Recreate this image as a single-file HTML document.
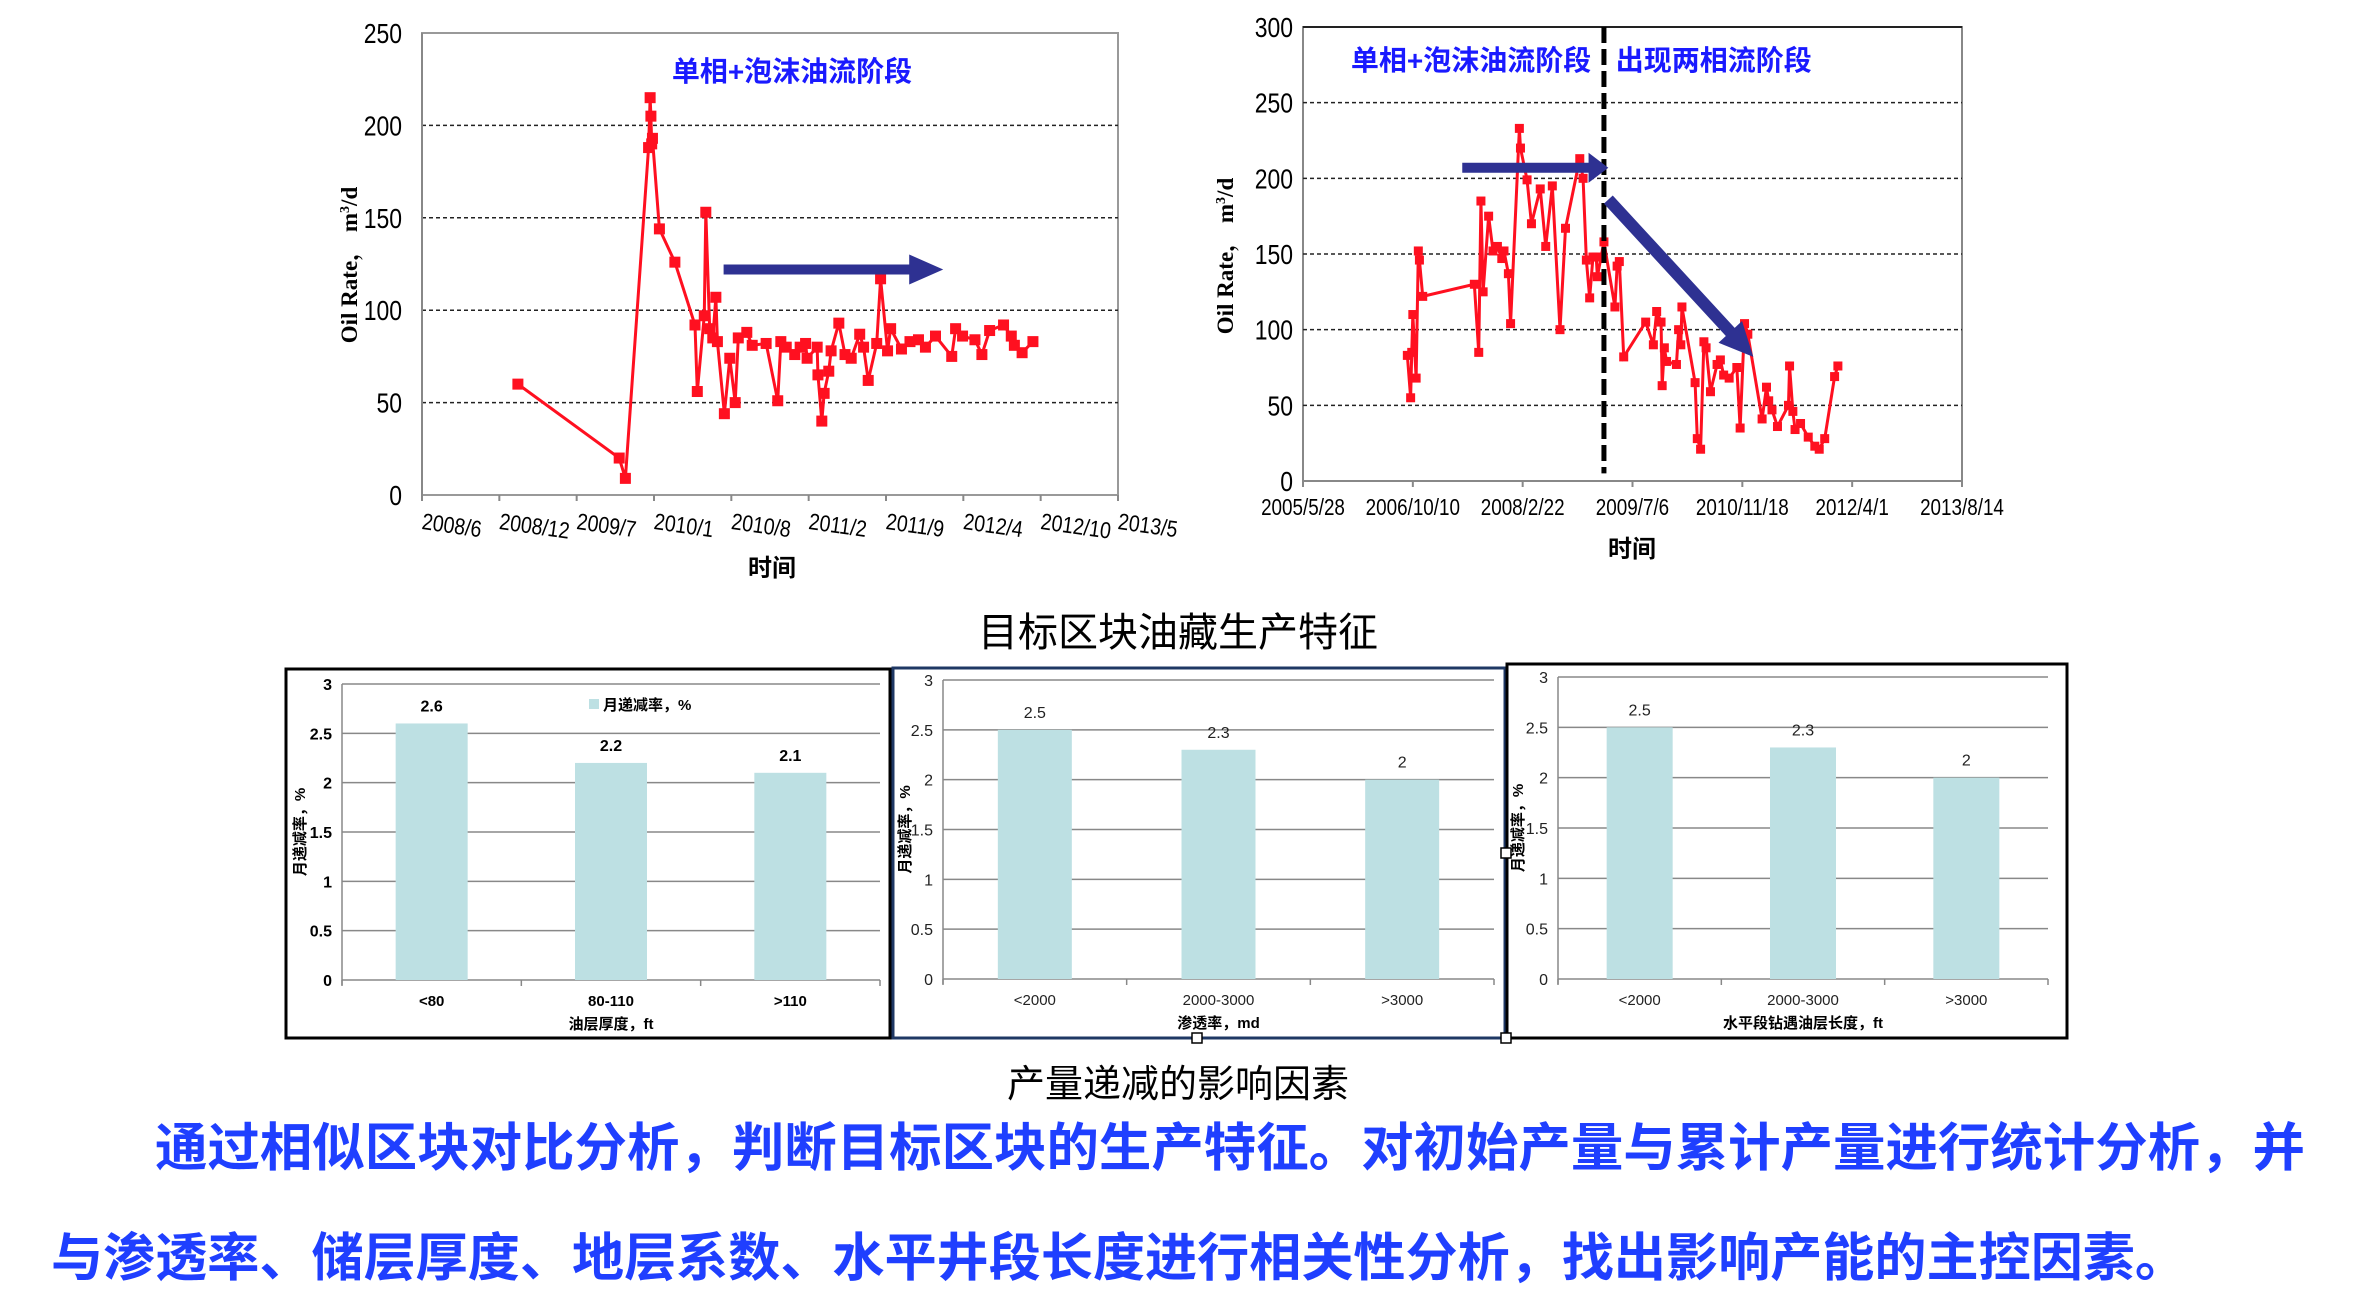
<!DOCTYPE html>
<html><head><meta charset="utf-8">
<style>
html,body{margin:0;padding:0;background:#fff;}
svg{display:block;}
text{font-family:"Liberation Sans","Noto Sans CJK SC",sans-serif;}
</style></head>
<body>
<svg id="s" width="2366" height="1314" viewBox="0 0 2366 1314" xmlns="http://www.w3.org/2000/svg">
<text x="1178" y="646" font-size="40" text-anchor="middle" fill="#000">目标区块油藏生产特征</text>
<text x="1178" y="1097" font-size="38" text-anchor="middle" fill="#000">产量递减的影响因素</text>
<text x="155" y="1166" font-size="52" font-weight="bold" fill="#1f3fff" textLength="2150" lengthAdjust="spacingAndGlyphs">通过相似区块对比分析，判断目标区块的生产特征。对初始产量与累计产量进行统计分析，并</text>
<text x="51" y="1276" font-size="52" font-weight="bold" fill="#1f3fff" textLength="2136" lengthAdjust="spacingAndGlyphs">与渗透率、储层厚度、地层系数、水平井段长度进行相关性分析，找出影响产能的主控因素。</text>
</svg>
<script>
// ---- Chart 1 data (time in x-tick index units from 2008/6) ----
const c1Ticks = ["2008/6","2008/12","2009/7","2010/1","2010/8","2011/2","2011/9","2012/4","2012/10","2013/5"];
const c1YTicks = [0,50,100,150,200,250];
const c1Time = [1.24,2.55,2.63,2.93,2.95,2.96,2.97,2.98,3.07,3.27,3.53,3.56,3.65,3.67,3.72,3.76,3.80,3.82,3.91,3.98,4.05,4.09,4.20,4.27,4.45,4.60,4.64,4.71,4.82,4.89,4.96,4.98,5.11,5.12,5.17,5.20,5.26,5.29,5.39,5.47,5.55,5.66,5.71,5.77,5.88,5.93,6.02,6.06,6.20,6.31,6.42,6.51,6.64,6.85,6.90,6.99,7.15,7.24,7.34,7.52,7.62,7.66,7.76,7.90];
const c1Rate = [60,20,9,188,215,205,190,193,144,126,92,56,97,153,90,85,107,83,44,74,50,85,88,81,82,51,83,80,76,80,82,74,80,65,40,55,67,78,93,76,74,87,80,62,82,117,78,90,79,83,84,80,86,75,90,86,84,76,89,92,86,81,77,83];
// ---- Chart 2 data (time in x-tick index units from 2005/5/28) ----
const c2Ticks = ["2005/5/28","2006/10/10","2008/2/22","2009/7/6","2010/11/18","2012/4/1","2013/8/14"];
const c2YTicks = [0,50,100,150,200,250,300];
const c2Time = [0.95,0.98,0.99,1.00,1.03,1.05,1.06,1.09,1.56,1.60,1.62,1.64,1.69,1.73,1.77,1.81,1.83,1.87,1.89,1.97,1.98,2.04,2.08,2.16,2.21,2.27,2.34,2.39,2.52,2.55,2.58,2.61,2.64,2.67,2.68,2.74,2.84,2.86,2.88,2.92,3.12,3.19,3.22,3.26,3.27,3.29,3.31,3.40,3.42,3.44,3.45,3.57,3.59,3.62,3.65,3.67,3.71,3.77,3.80,3.83,3.88,3.95,3.98,4.02,4.05,4.18,4.22,4.24,4.27,4.32,4.42,4.43,4.46,4.48,4.53,4.60,4.66,4.70,4.75,4.84,4.87];
const c2Rate = [83,55,85,110,68,152,146,122,130,85,185,125,175,152,155,147,152,137,104,233,220,199,170,193,155,195,100,167,213,200,146,121,148,148,135,158,115,142,145,82,105,90,112,105,63,88,79,77,100,90,115,65,28,21,92,88,59,77,80,70,68,75,35,104,97,41,62,53,47,36,50,76,46,34,38,29,23,21,28,69,76];
// ---- Bar charts ----
const barCatsA = ["<80","80-110",">110"];
const barValsA = [2.6,2.2,2.1];
const barCatsB = ["<2000","2000-3000",">3000"];
const barValsB = [2.5,2.3,2];
const barCatsC = ["<2000","2000-3000",">3000"];
const barValsC = [2.5,2.3,2];
const barYTicks = [0,0.5,1,1.5,2,2.5,3];

const NS="http://www.w3.org/2000/svg";
const svg=document.getElementById('s');
function mk(tag,attrs,parent){const e=document.createElementNS(NS,tag);for(const k in attrs)e.setAttribute(k,attrs[k]);(parent||svg).appendChild(e);return e;}
function txt(str,attrs,parent){const e=mk('text',attrs,parent);e.textContent=str;return e;}

// ================= Chart 1 =================
const g1=mk('g',{});


const L1=422,R1=1118,T1=33,B1=495;
const x1=t=>L1+t*(R1-L1)/9;
const y1=v=>B1-v*(B1-T1)/250;
const pb1=mk('rect',{x:L1,y:T1,width:R1-L1,height:B1-T1,fill:'none',stroke:'#999','stroke-width':2},g1);


c1YTicks.forEach(v=>{
  if(v>0&&v<250){const gl=mk('line',{x1:L1,x2:R1,y1:y1(v),y2:y1(v),stroke:'#222','stroke-width':1.5,'stroke-dasharray':'4,3'},g1);
  
  }
  const t=txt(String(v),{x:L1-20,y:y1(v)+10,'font-size':28,'text-anchor':'end',fill:'#000',transform:`translate(${L1-20},0) scale(0.82,1) translate(${-(L1-20)},0)`},g1);
  
  
});
mk('line',{x1:L1,x2:L1,y1:T1,y2:B1,stroke:'#888','stroke-width':2},g1);
c1Ticks.forEach((s,i)=>{
  const x=x1(i);
  mk('line',{x1:x,x2:x,y1:B1,y2:B1+6,stroke:'#888','stroke-width':2},g1);
  const t=txt(s,{x:x,y:B1+34,'font-size':23,'text-anchor':'start',fill:'#000',transform:`rotate(8 ${x} ${B1+28}) translate(${x},0) scale(0.85,1) translate(${-x},0)`},g1);
  
  
});
const xt1=txt('时间',{x:772,y:576,'font-size':24,'font-weight':'bold','text-anchor':'middle',fill:'#000'},g1);


const yt1=mk('text',{x:0,y:0,'font-size':23,'font-weight':'bold','text-anchor':'middle',fill:'#000',style:'font-family:"Liberation Serif","Noto Serif CJK SC",serif',transform:'translate(357,265) rotate(-90)'},g1);
yt1.innerHTML='Oil Rate，  m<tspan dy="-8" font-size="14">3</tspan><tspan dy="8">/d</tspan>';


const ti1=txt('单相+泡沫油流阶段',{x:792,y:81,'font-size':28,'font-weight':'bold','text-anchor':'middle',fill:'#1a1aff'},g1);


const ln1=mk('polyline',{points:c1Time.map((t,i)=>x1(t)+','+y1(c1Rate[i])).join(' '),fill:'none',stroke:'#ff1020','stroke-width':3},g1);


c1Time.forEach((t,i)=>{
  const m=mk('rect',{x:x1(t)-5.5,y:y1(c1Rate[i])-5.5,width:11,height:11,fill:'#ff1020'},g1);
  
  
});
{
  const ay=y1(122),xs=x1(3.9),xh=x1(6.3),xe=x1(6.74);
  const a=mk('polygon',{points:`${xs},${ay-5} ${xh},${ay-5} ${xh},${ay-15} ${xe},${ay} ${xh},${ay+15} ${xh},${ay+5} ${xs},${ay+5}`,fill:'#2e3192'},g1);
  
  
}

// ================= Chart 2 =================
const g2=mk('g',{});


const L2=1303,R2=1962,T2=27,B2=481;
const x2=t=>L2+t*(R2-L2)/6;
const y2=v=>B2-v*(B2-T2)/300;
const pb2=mk('rect',{x:L2,y:T2,width:R2-L2,height:B2-T2,fill:'none',stroke:'#888','stroke-width':2},g2);


mk('line',{x1:L2,x2:R2,y1:T2,y2:T2,stroke:'#222','stroke-width':2},g2);
c2YTicks.forEach(v=>{
  if(v>0&&v<300){const gl=mk('line',{x1:L2,x2:R2,y1:y2(v),y2:y2(v),stroke:'#222','stroke-width':1.5,'stroke-dasharray':'4,3'},g2);
  
  }
  const t=txt(String(v),{x:L2-10,y:y2(v)+10,'font-size':28,'text-anchor':'end',fill:'#000',transform:`translate(${L2-10},0) scale(0.82,1) translate(${-(L2-10)},0)`},g2);
  
  
});
c2Ticks.forEach((s,i)=>{
  const x=x2(i);
  mk('line',{x1:x,x2:x,y1:B2,y2:B2+6,stroke:'#888','stroke-width':2},g2);
  const t=txt(s,{x:x,y:B2+34,'font-size':23,'text-anchor':'middle',fill:'#000',transform:`translate(${x},0) scale(0.82,1) translate(${-x},0)`},g2);
  
  
});
const xt2=txt('时间',{x:1632,y:557,'font-size':24,'font-weight':'bold','text-anchor':'middle',fill:'#000'},g2);


const yt2=mk('text',{x:0,y:0,'font-size':23,'font-weight':'bold','text-anchor':'middle',fill:'#000',style:'font-family:"Liberation Serif","Noto Serif CJK SC",serif',transform:'translate(1233,256) rotate(-90)'},g2);
yt2.innerHTML='Oil Rate，  m<tspan dy="-8" font-size="14">3</tspan><tspan dy="8">/d</tspan>';


const ti2a=txt('单相+泡沫油流阶段',{x:x2(1.53),y:70,'font-size':28,'font-weight':'bold','text-anchor':'middle',fill:'#1a1aff'},g2);


const ti2b=txt('出现两相流阶段',{x:x2(3.74),y:70,'font-size':28,'font-weight':'bold','text-anchor':'middle',fill:'#1a1aff'},g2);


const ln2=mk('polyline',{points:c2Time.map((t,i)=>x2(t)+','+y2(c2Rate[i])).join(' '),fill:'none',stroke:'#ff1020','stroke-width':3},g2);


c2Time.forEach((t,i)=>{
  const m=mk('rect',{x:x2(t)-4.5,y:y2(c2Rate[i])-4.5,width:9,height:9,fill:'#ff1020'},g2);
  
  
});
const dv=mk('line',{x1:x2(2.74),x2:x2(2.74),y1:T2,y2:y2(5),stroke:'#000','stroke-width':5,'stroke-dasharray':'16,6'},g2);


{
  const ay=y2(207),xs=x2(1.45),xh=x2(2.6),xe=x2(2.78);
  const a=mk('polygon',{points:`${xs},${ay-5} ${xh},${ay-5} ${xh},${ay-15} ${xe},${ay} ${xh},${ay+15} ${xh},${ay+5} ${xs},${ay+5}`,fill:'#2e3192'},g2);
  
  
  const sx=x2(2.78),sy=y2(186),ex=x2(4.10),ey=y2(82);
  const dx=ex-sx,dy=ey-sy,len=Math.hypot(dx,dy),ux=dx/len,uy=dy/len,px=-uy,py=ux;
  const hb=len-34,w=6,hw=16;
  const P=(d,o)=>(sx+ux*d+px*o)+','+(sy+uy*d+py*o);
  const a2=mk('polygon',{points:[P(0,-w),P(hb,-w),P(hb,-hw),P(len,0),P(hb,hw),P(hb,w),P(0,w)].join(' '),fill:'#2e3192'},g2);
  
  
}

// ================= Bar charts =================
function barChart(name,box,plot,cats,vals,opt){
  const g=mk('g',{});
  
  
  const bx=mk('rect',{x:box[0],y:box[1],width:box[2]-box[0],height:box[3]-box[1],fill:'#fff',stroke:opt.border,'stroke-width':3},g);
  
  
  const [L,T,R,B]=plot;
  const y=v=>B-v*(B-T)/3;
  const bw=(R-L)/cats.length;
  const fw=opt.bold?'bold':'normal';
  const col=opt.bold?'#000':'#222';
  barYTicks.forEach(v=>{
    const gl=mk('line',{x1:L,x2:R,y1:y(v),y2:y(v),stroke:'#888','stroke-width':1.5},g);
    
    
    const t=txt(String(v),{x:L-10,y:y(v)+6,'font-size':16,'font-weight':fw,'text-anchor':'end',fill:col},g);
    
    
  });
  mk('line',{x1:L,x2:L,y1:T,y2:B+5,stroke:'#888','stroke-width':1.5},g);
  for(let i=0;i<=cats.length;i++){mk('line',{x1:L+i*bw,x2:L+i*bw,y1:B,y2:B+6,stroke:'#888','stroke-width':1.5},g);}
  cats.forEach((c,i)=>{
    const cx=L+bw*(i+0.5),w=opt.barW;
    const r=mk('rect',{x:cx-w/2,y:y(vals[i]),width:w,height:B-y(vals[i]),fill:'#bde0e3'},g);
    
    
    const vl=txt(String(vals[i]),{x:cx,y:y(vals[i])-12,'font-size':16,'font-weight':fw,'text-anchor':'middle',fill:col},g);
    
    
    const cl=txt(c,{x:cx,y:B+26,'font-size':15,'font-weight':fw,'text-anchor':'middle',fill:col},g);
    
    
  });
  const xt=txt(opt.xTitle,{x:(L+R)/2,y:B+49,'font-size':15,'font-weight':'bold','text-anchor':'middle',fill:'#000'},g);
  
  
  const yt=txt('月递减率，%',{x:0,y:0,'font-size':15,'font-weight':'bold','text-anchor':'middle',fill:'#000',transform:`translate(${opt.yTitleX},${(T+B)/2}) rotate(-90)`},g);
  
  
  return g;
}
const gA=barChart('decline-by-thickness',[286,669,890,1038],[342,684,880,980],barCatsA,barValsA,{border:'#000',bold:true,barW:72,xTitle:'油层厚度，ft',yTitleX:305});
const lgBox=mk('rect',{x:589,y:699,width:10,height:10,fill:'#bde0e3'},gA);


const lgT=txt('月递减率，%',{x:603,y:710,'font-size':15,'font-weight':'bold',fill:'#000'},gA);


barChart('decline-by-permeability',[893,668,1505,1038],[943,680,1494,979],barCatsB,barValsB,{border:'#1f3864',bold:false,barW:74,xTitle:'渗透率，md',yTitleX:910});
barChart('decline-by-lateral-length',[1507,664,2067,1038],[1558,677,2048,979],barCatsC,barValsC,{border:'#000',bold:false,barW:66,xTitle:'水平段钻遇油层长度，ft',yTitleX:1523});
[[1197,1038],[1506,1038],[1506,853]].forEach(p=>{
  const h=mk('rect',{x:p[0]-5,y:p[1]-5,width:10,height:10,fill:'#fff',stroke:'#000','stroke-width':1.5});
  
  
});
</script>
</body></html>
